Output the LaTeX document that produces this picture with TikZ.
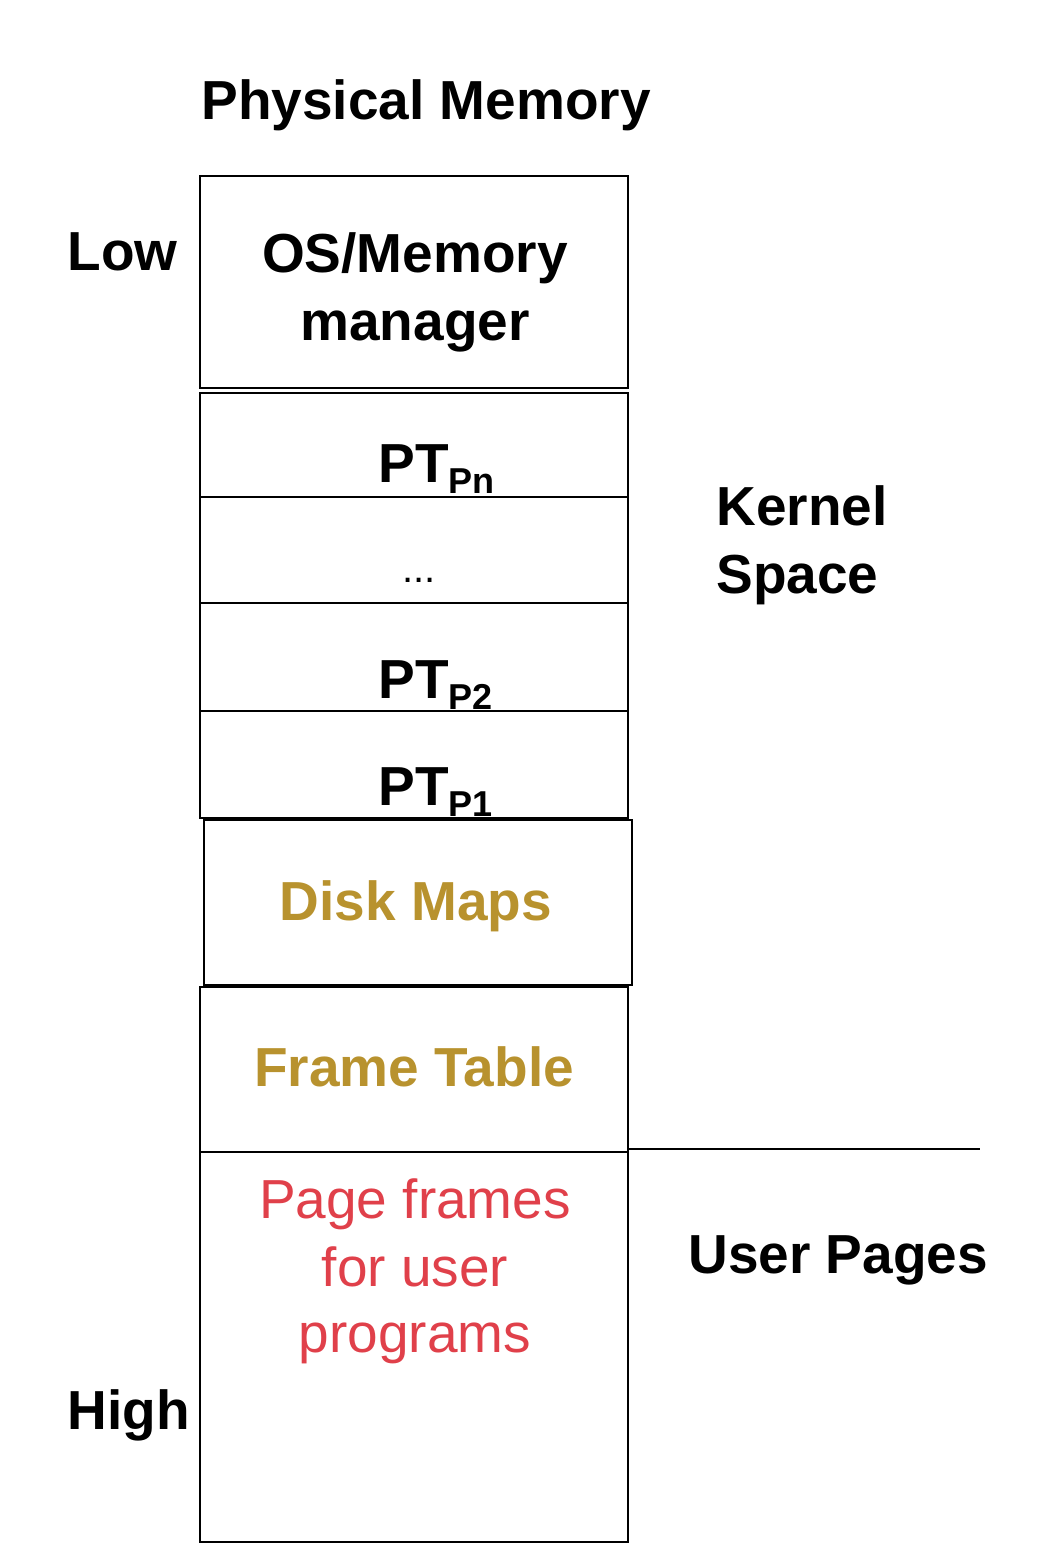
\documentclass[tikz,border=0pt]{standalone}
\usepackage{fontspec}
\setmainfont{Liberation Sans}
\usepackage{tikz}
\usetikzlibrary{calc, positioning}
\definecolor{gold}{RGB}{184,146,46}
\definecolor{redtxt}{RGB}{224,64,74}
\tikzset{
	box/.style={draw, line width=1.4pt, rectangle, inner sep=0pt, minimum width=214pt},
	lbl/.style={font=\fontsize{27.5}{34}\selectfont\bfseries, inner sep=0pt},
	reg/.style={font=\fontsize{27.5}{34}\selectfont, inner sep=0pt}
}
\newcommand{\ptsub}[1]{PT\raisebox{-5.5pt}{\fontsize{18}{18}\selectfont #1}}

\begin{document}
\begin{tikzpicture}
		[x=0.5pt, y=-0.5pt]
	
		\useasboundingbox (0,0) rectangle (1044,1558);
	
		% boxes %
		\node[box, minimum height=106pt] (os) at (414,282) {};
		\node[box, minimum height=52pt] (ptn) at (414,445) {};
		\node[box, minimum height=53pt] (dots) at (414,550) {};
		\node[box, minimum height=54pt] (pt2) at (414,657) {};
		\node[box, minimum height=53.5pt] (pt1) at (414,764.5) {};
		\node[box, minimum height=82.5pt] (disk) at (418,902.5) {};
		\node[box, minimum height=82.5pt] (frame) at (414,1069.5) {};
		\node[box, minimum height=195pt] (user) at (414,1347) {};
		\coordinate (split) at (980,1149);
	
		% texts %
		\node[lbl, anchor=base] (title) at (426,119) {Physical Memory};
		\node[lbl, anchor=base west] (low) at (67,270) {Low};
		\node[lbl, anchor=base west] (high) at (67,1429) {High};
		\node[lbl, anchor=base] (ostxt) at (415,272) {OS/Memory};
		\node[lbl, anchor=base] (mgrtxt) at (415,340) {manager};
		\node[lbl, anchor=base west] (ptntxt) at (378,482) {\ptsub{Pn}};
		\node[reg, font=\fontsize{20}{24}\selectfont, anchor=base] (dotstxt) at (419,582) {...};
		\node[lbl, anchor=base west] (pt2txt) at (378,698) {\ptsub{P2}};
		\node[lbl, anchor=base west] (pt1txt) at (378,805) {\ptsub{P1}};
		\node[lbl, text=gold, anchor=base] (disktxt) at (416,920) {Disk Maps};
		\node[lbl, text=gold, anchor=base] (frametxt) at (414,1086) {Frame Table};
		\node[reg, text=redtxt, anchor=base] (usertxt1) at (415,1218) {Page frames};
		\node[reg, text=redtxt, anchor=base] (usertxt2) at (415,1286) {for user};
		\node[reg, text=redtxt, anchor=base] (usertxt3) at (415,1352) {programs};
		\node[lbl, anchor=base west] (kernel) at (716,525) {Kernel};
		\node[lbl, anchor=base west] (space) at (716,593) {Space};
		\node[lbl, anchor=base west] (upages) at (688,1273) {User Pages};
	
		% edges %
		\draw[line width=1.2pt] (frame.south east |- split) -- (split);
	
		\end{tikzpicture}
\end{document}
